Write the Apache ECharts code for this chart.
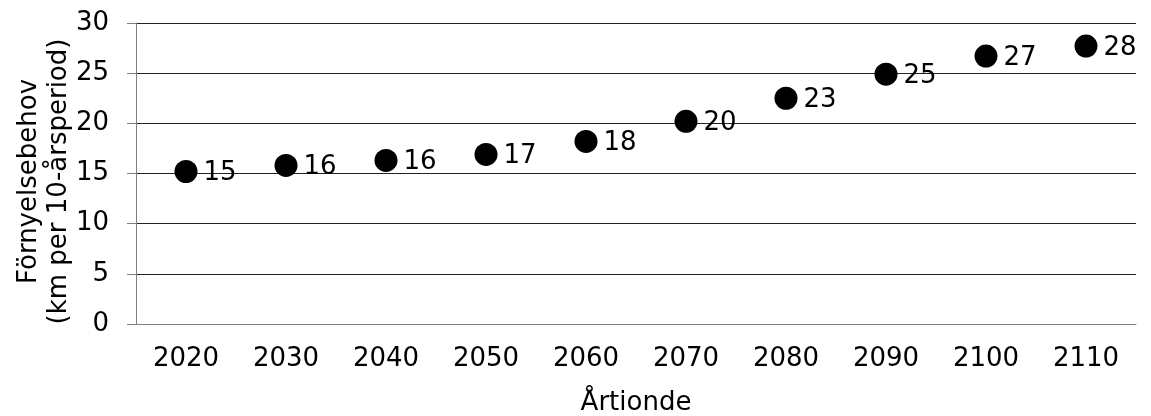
<!DOCTYPE html>
<html>
<head>
<meta charset="utf-8">
<script src="https://cdn.jsdelivr.net/npm/echarts@6/dist/echarts.min.js"></script>
<style>
  html, body { margin: 0; padding: 0; background: #fff; }
  #chart { width: 1151px; height: 416px; }
</style>
</head>
<body>
<div id="chart"></div>
<script>
// decades and renewal need (km per 10-year period)
var decades = ["2020", "2030", "2040", "2050", "2060", "2070", "2080", "2090", "2100", "2110"];
var renewal = [15.2, 15.8, 16.3, 16.9, 18.2, 20.2, 22.5, 24.9, 26.7, 27.7];
var yTicks = [0, 5, 10, 15, 20, 25, 30];

var font = "DejaVu Sans";
var fs = 26;
var chart = echarts.init(document.getElementById("chart"));

var option = {
  animation: false,
  backgroundColor: "#fff",
  textStyle: { fontFamily: font },
  grid: { left: 136, right: 15, top: 23, bottom: 92, outerBoundsMode: "none", containLabel: false },
  xAxis: {
    type: "category",
    data: decades,
    name: "Årtionde",
    nameLocation: "middle",
    nameGap: 66,
    nameMoveOverlap: false,
    nameTextStyle: { fontFamily: font, fontSize: fs, color: "#000" },
    axisLine: { lineStyle: { color: "#808080", width: 1 } },
    axisTick: { show: false },
    axisLabel: { fontFamily: font, fontSize: fs, color: "#000", margin: 22 }
  },
  yAxis: {
    type: "value",
    min: yTicks[0],
    max: yTicks[yTicks.length - 1],
    interval: 5,
    name: "Förnyelsebehov\n(km per 10-årsperiod)",
    nameLocation: "middle",
    nameGap: 62,
    nameMoveOverlap: false,
    nameTextStyle: { fontFamily: font, fontSize: fs, color: "#000", lineHeight: 30, padding: [0, 16, 0, 0] },
    axisLine: { show: true, lineStyle: { color: "#808080", width: 1 } },
    axisTick: { show: true, length: 9, lineStyle: { color: "#808080" } },
    axisLabel: { fontFamily: font, fontSize: fs, color: "#000", margin: 27 },
    splitLine: { lineStyle: { color: "#222", width: 1 } }
  },
  series: [
    {
      type: "scatter",
      data: renewal,
      symbol: "circle",
      symbolSize: 23,
      itemStyle: { color: "#000", opacity: 1 },
      label: {
        show: true,
        position: "right",
        distance: 6,
        offset: [0, 2],
        fontFamily: font,
        fontSize: fs,
        color: "#000",
        formatter: function (p) { return Math.round(p.value); }
      }
    }
  ]
};

chart.setOption(option);
</script>
</body>
</html>
